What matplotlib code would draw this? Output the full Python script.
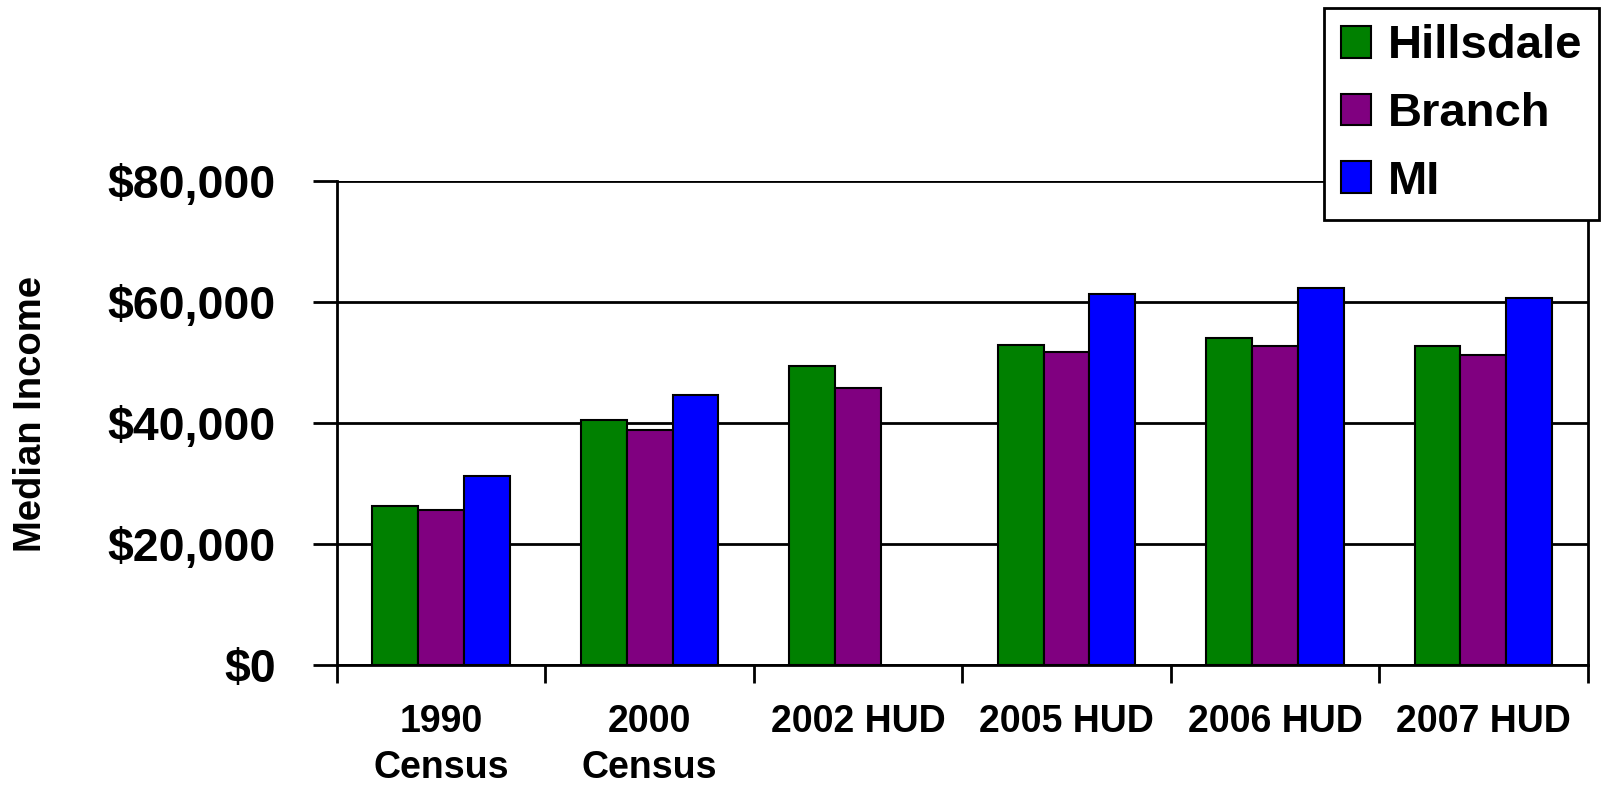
import numpy as np
import matplotlib
matplotlib.use('Agg')
import matplotlib.pyplot as plt

plt.rcParams['font.family'] = ['Liberation Sans', 'DejaVu Sans']
plt.rcParams['font.weight'] = 'bold'

categories = ['1990\nCensus', '2000\nCensus', '2002 HUD', '2005 HUD', '2006 HUD', '2007 HUD']
hillsdale = [26300, 40500, 49400, 53000, 54000, 52700]
branch = [25600, 38800, 45800, 51700, 52700, 51300]
mi = [31200, 44700, np.nan, 61300, 62300, 60700]
series = ['Hillsdale', 'Branch', 'MI']
colors = ['#008000', '#800080', '#0000FF']
yticks = [0, 20000, 40000, 60000, 80000]

fig = plt.figure(figsize=(16.02, 7.88), dpi=100)
ax = fig.add_axes([0.2104, 0.156, 0.7806, 0.614])

x = np.arange(len(categories))
w = 0.22
for i, (vals, name, c) in enumerate(zip([hillsdale, branch, mi], series, colors)):
	ax.bar(x + (i - 1) * w, vals, w, color=c, edgecolor='black', linewidth=1.5, label=name, zorder=3)

ax.set_xlim(-0.5, len(categories) - 0.5)
ax.set_ylim(0, 80000)
ax.set_yticks(yticks)
ax.set_yticklabels(['${:,}'.format(v) for v in yticks])
ax.yaxis.grid(True, color='black', linewidth=2.0, zorder=0)

# category labels centred, ticks between groups
ax.set_xticks(x)
ax.set_xticklabels(categories, fontsize=27, fontweight='bold', linespacing=1.35)
ax.tick_params(axis='x', which='major', length=0, pad=28)
ax.set_xticks(np.arange(len(categories) + 1) - 0.5, minor=True)
ax.tick_params(axis='x', which='minor', length=13, width=2, direction='out')
ax.tick_params(axis='y', length=17, width=2, direction='out', pad=27, labelsize=33.5)
for t in ax.get_yticklabels():
	t.set_fontweight('bold')

ax.spines['top'].set_visible(False)
for s in ['left', 'right', 'bottom']:
	ax.spines[s].set_linewidth(2)

fig.text(0.0195, 0.475, 'Median Income', rotation=90, fontsize=27.5, fontweight='bold',
	ha='center', va='center')

leg = fig.legend(loc='upper right', bbox_to_anchor=(0.998, 0.99), borderaxespad=0,
	prop={'weight': 'bold', 'size': 34}, frameon=True, fancybox=False, shadow=False,
	handlelength=0.65, handleheight=0.65, handletextpad=0.35, labelspacing=0.5,
	borderpad=0.35, framealpha=1)
leg.get_frame().set_edgecolor('black')
leg.get_frame().set_linewidth(2)

fig.savefig('out.png', dpi=100, facecolor='white')
